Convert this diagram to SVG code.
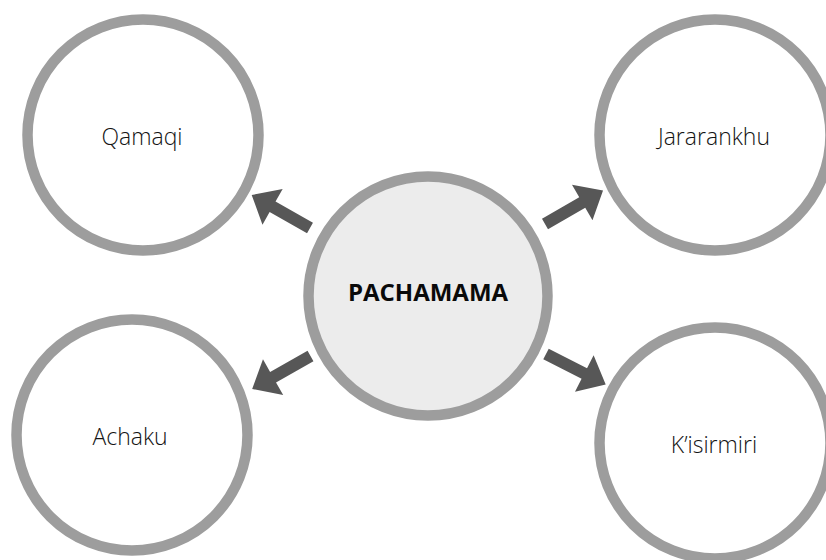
<svg xmlns="http://www.w3.org/2000/svg" width="826" height="560" viewBox="0 0 826 560">
<style>
.ring{fill:#ffffff;stroke:#9d9d9d;stroke-width:10.5}
.core{fill:#ececec;stroke:#9d9d9d;stroke-width:10.5}
.lbl{font-family:"Open Sans","Noto Sans","Liberation Sans",sans-serif;font-weight:300;font-size:23px;fill:#141414;text-anchor:middle}
.main{font-family:"Open Sans","Noto Sans","Liberation Sans",sans-serif;font-weight:700;font-size:24px;fill:#0a0a0a;text-anchor:middle}
.arr{fill:#575757}
</style>
<defs>
<path id="arrow" d="M0,-6 L43,-6 L43,-20.5 L67,0 L43,20.5 L43,6 L0,6 Z"/>
</defs>
<rect width="826" height="560" fill="#ffffff"/>
<g id="qamaqi">
<circle class="ring" cx="143" cy="135" r="115.5"/>
<text class="lbl" x="142" y="145">Qamaqi</text>
</g>
<g id="jararankhu">
<circle class="ring" cx="715" cy="135" r="115.5"/>
<text class="lbl" x="714" y="145">Jararankhu</text>
</g>
<g id="achaku">
<circle class="ring" cx="132" cy="435" r="115.5"/>
<text class="lbl" x="130" y="445">Achaku</text>
</g>
<g id="kisirmiri">
<circle class="ring" cx="715" cy="443" r="115.5"/>
<text class="lbl" x="714" y="453">K’isirmiri</text>
</g>
<g id="pachamama">
<circle class="core" cx="428" cy="296" r="119.5"/>
<text class="main" x="428" y="301">PACHAMAMA</text>
</g>
<g id="connectors" class="arr">
<use href="#arrow" transform="translate(310,228) rotate(209.5)"/>
<use href="#arrow" transform="translate(545,224) rotate(-30)"/>
<use href="#arrow" transform="translate(310.5,356) rotate(150.5)"/>
<use href="#arrow" transform="translate(546,354) rotate(27)"/>
</g>
</svg>
